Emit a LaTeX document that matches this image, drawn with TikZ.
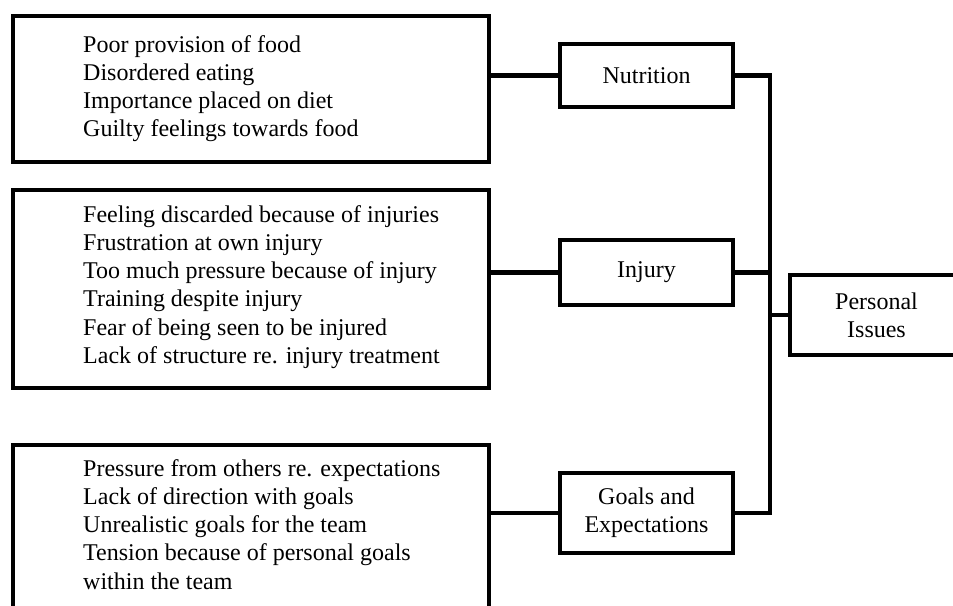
\documentclass[tikz,border=0pt]{standalone}
\usepackage{fontspec}
\setmainfont{Liberation Serif}
\usetikzlibrary{positioning}

\begin{document}
\begin{tikzpicture}[
  x=1pt, y=-1pt,
  font=\fontsize{24}{28.3}\selectfont,
  frame/.style={draw, line width=4.5pt, inner sep=0pt},
  items/.style={anchor=base west, align=left, inner sep=0pt},
  tag/.style={draw, line width=4.5pt, minimum width=173pt, align=center, inner sep=2pt},
  link/.style={line width=4.5pt}
]
\useasboundingbox (0,0) rectangle (953,605);

% Theme lists (text anchored at the baseline of the last line)
\node[frame, minimum width=476pt, minimum height=146pt] (nutlist) at (251,89) {};
\node[items] (nuttext) at (83,136.9)
  {Poor provision of food\\Disordered eating\\Importance placed on diet\\Guilty feelings towards food};

\node[frame, minimum width=476pt, minimum height=198pt] (injlist) at (251,289) {};
\node[items] (injtext) at (83,363.5)
  {Feeling discarded because of injuries\\Frustration at own injury\\Too much pressure because of injury\\Training despite injury\\Fear of being seen to be injured\\Lack of structure re. injury treatment};

\node[frame, minimum width=476pt, minimum height=200pt] (goallist) at (251,545) {};
\node[items] (goaltext) at (83,589.2)
  {Pressure from others re. expectations\\Lack of direction with goals\\Unrealistic goals for the team\\Tension because of personal goals\\within the team};

% Sub-themes
\node[tag, minimum height=63pt] (nutrition) at (646.5,75.5) {Nutrition};
\node[tag, minimum height=65pt] (injury) at (646.5,272.5) {Injury};
\node[tag, minimum height=80pt] (goals) at (646.5,513) {Goals and\\Expectations};

% Main theme
\node[tag, minimum height=80pt] (personal) at (876.5,315) {Personal\\Issues};

\draw[link] (nutlist.east |- nutrition.west) -- (nutrition.west);
\draw[link] (injlist.east |- injury.west) -- (injury.west);
\draw[link] (goallist.east |- goals.west) -- (goals.west);

\coordinate (bus) at (770,315);
\draw[link] (nutrition.east) -| (bus |- goals.east) -- (goals.east);
\draw[link] (injury.east) -- (injury.east -| bus);
\draw[link] (bus) -- (personal.west);

\end{tikzpicture}
\end{document}
